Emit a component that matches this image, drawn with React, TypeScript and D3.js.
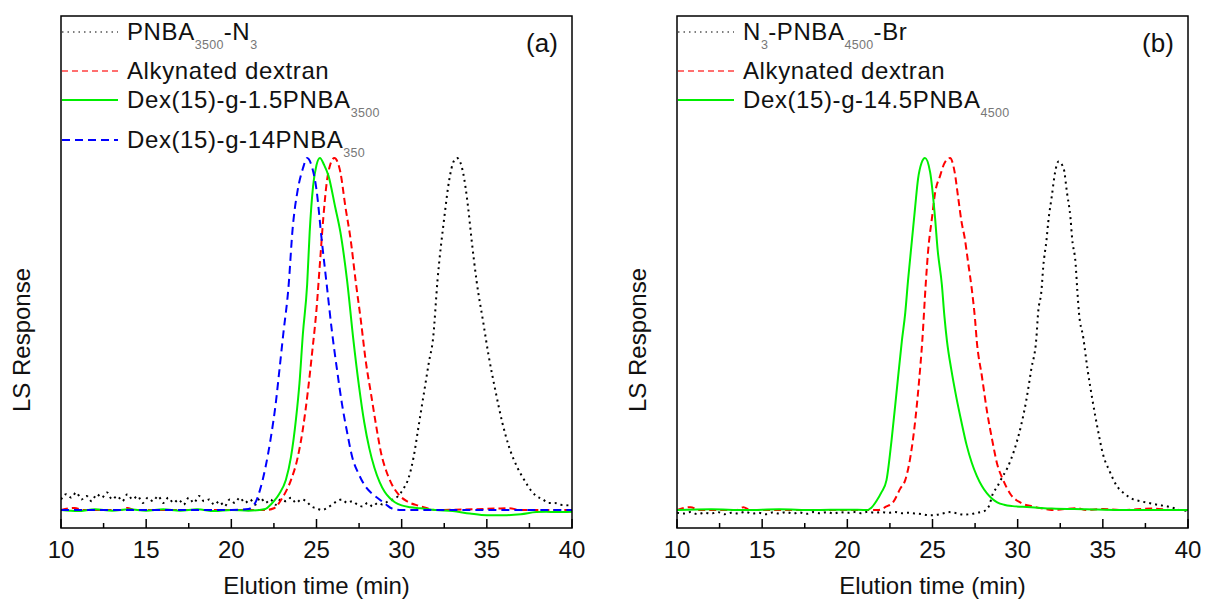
import React from "react";
import * as d3 from "d3";

type Pt = [number, number];

// ---------- Panel (a) data: [elution time (min), normalized LS response] ----------
const aPnba: Pt[] = [
  [10.0, 0.03], [10.3, 0.045], [10.6, 0.035], [10.9, 0.05], [11.2, 0.03], [11.5, 0.04], [11.8, 0.025],
  [12.1, 0.045], [12.4, 0.035], [12.7, 0.05], [13.0, 0.03], [13.3, 0.04], [13.6, 0.025], [13.9, 0.045],
  [14.2, 0.03], [14.5, 0.04], [14.8, 0.02], [15.1, 0.035], [15.4, 0.025], [15.7, 0.04], [16.0, 0.02],
  [16.3, 0.035], [16.6, 0.02], [16.9, 0.03], [17.2, 0.015], [17.5, 0.035], [17.8, 0.02], [18.1, 0.04],
  [18.4, 0.025], [18.7, 0.03], [19.0, 0.015], [19.3, 0.025], [19.6, 0.01], [19.9, 0.03], [20.2, 0.02],
  [20.5, 0.035], [20.8, 0.02], [21.1, 0.03], [21.4, 0.015], [21.7, 0.035], [22.0, 0.02], [22.3, 0.03],
  [22.6, 0.015], [22.9, 0.03], [23.2, 0.025], [23.5, 0.035], [23.8, 0.02], [24.1, 0.03], [24.4, 0.025],
  [24.7, 0.01], [25.0, 0.005], [25.3, 0.0], [25.6, 0.005], [25.9, 0.015], [26.2, 0.025], [26.5, 0.03],
  [26.8, 0.02], [27.1, 0.025], [27.4, 0.015], [27.7, 0.01], [28.0, 0.02], [28.3, 0.01], [28.6, 0.02],
  [28.9, 0.015], [29.2, 0.025], [29.5, 0.03], [29.8, 0.04], [30.1, 0.06], [30.4, 0.09], [30.7, 0.15],
  [31.0, 0.24], [31.3, 0.33], [31.6, 0.42], [31.85, 0.49], [32.1, 0.65], [32.5, 0.83], [32.8, 0.94],
  [33.05, 0.99], [33.25, 1.0], [33.6, 0.96], [33.9, 0.86], [34.1, 0.77], [34.4, 0.65], [34.8, 0.53],
  [35.1, 0.44], [35.5, 0.34], [35.9, 0.25], [36.3, 0.18], [36.8, 0.12], [37.2, 0.085], [37.6, 0.055],
  [37.9, 0.04], [38.3, 0.03], [38.6, 0.02], [39.0, 0.02], [39.3, 0.015], [39.6, 0.014], [40.0, 0.012],
];

const aDextran: Pt[] = [
  [10, 0], [10.8, 0.006], [11.3, 0], [13.5, 0], [13.9, 0.006], [14.3, 0], [18, 0], [22.0, 0], [22.5, 0.005],
  [23.0, 0.035], [23.5, 0.085], [23.9, 0.15], [24.2, 0.23], [24.5, 0.34], [24.75, 0.45], [25.0, 0.57],
  [25.2, 0.7], [25.4, 0.83], [25.6, 0.93], [25.8, 0.98], [26.05, 1.0], [26.4, 0.96], [26.7, 0.86],
  [27.0, 0.77], [27.3, 0.65], [27.6, 0.54], [27.9, 0.42], [28.2, 0.33], [28.5, 0.24], [28.8, 0.16],
  [29.1, 0.11], [29.4, 0.075], [29.8, 0.045], [30.3, 0.025], [31.0, 0.012], [31.5, 0.005], [32, 0],
  [35.5, 0.004], [36.3, 0.005], [37, 0], [40, 0],
];

const aGraft15: Pt[] = [
  [10, 0], [11, -0.003], [12, 0.002], [13, -0.002], [14, 0.002], [15, -0.002], [16, 0.002], [17, -0.002],
  [18, 0.002], [19, -0.003], [20, 0.0], [21, -0.002], [22.0, 0.003], [22.2, 0.01], [22.5, 0.025],
  [22.8, 0.045], [23.2, 0.085], [23.5, 0.15], [23.8, 0.26], [24.0, 0.36], [24.2, 0.5], [24.45, 0.64],
  [24.6, 0.79], [24.8, 0.92], [25.0, 0.98], [25.2, 1.0], [25.45, 0.98], [25.7, 0.95], [26.1, 0.86],
  [26.4, 0.79], [26.8, 0.65], [27.15, 0.49], [27.5, 0.35], [27.8, 0.25], [28.1, 0.175], [28.4, 0.12],
  [28.7, 0.08], [29.0, 0.052], [29.3, 0.034], [29.6, 0.022], [30.0, 0.013], [30.5, 0.008], [31.1, 0.005],
  [32, 0.0], [33, -0.003], [34, -0.01], [35, -0.015], [36, -0.015], [37, -0.012], [37.9, -0.006],
  [38.5, -0.005], [39, -0.006], [40, -0.005],
];

const aGraft14: Pt[] = [
  [10, 0], [12, 0], [14, 0], [16, 0], [18, 0], [20, 0], [21.0, 0.003], [21.4, 0.02], [21.7, 0.06],
  [22.0, 0.12], [22.3, 0.2], [22.6, 0.3], [22.85, 0.41], [23.05, 0.5], [23.35, 0.63], [23.6, 0.8],
  [23.9, 0.91], [24.2, 0.97], [24.45, 1.0], [24.7, 0.98], [25.0, 0.91], [25.3, 0.77], [25.6, 0.64],
  [25.9, 0.51], [26.2, 0.4], [26.5, 0.3], [26.8, 0.22], [27.1, 0.15], [27.5, 0.1], [27.9, 0.065],
  [28.3, 0.045], [28.7, 0.03], [29.1, 0.015], [29.4, 0.005], [30, 0], [32, 0], [35, 0], [38, 0], [40, 0],
];

// ---------- Panel (b) data ----------
const bPnba: Pt[] = [
  [10.0, -0.008], [10.4, -0.01], [10.8, -0.006], [11.2, -0.012], [11.6, -0.008], [12.0, -0.01],
  [12.4, -0.006], [12.8, -0.012], [13.2, -0.008], [13.6, -0.01], [14.0, -0.005], [14.4, -0.01],
  [14.8, -0.008], [15.2, -0.012], [15.6, -0.007], [16.0, -0.01], [16.4, -0.006], [16.8, -0.01],
  [17.2, -0.007], [17.6, -0.011], [18.0, -0.006], [18.4, -0.009], [18.8, -0.006], [19.2, -0.01],
  [19.6, -0.006], [20.0, -0.008], [20.4, -0.006], [20.8, -0.009], [21.2, -0.005], [21.6, -0.008],
  [22.0, -0.006], [22.4, -0.008], [22.8, -0.006], [23.2, -0.009], [23.6, -0.008], [24.0, -0.01],
  [24.4, -0.012], [24.8, -0.015], [25.2, -0.014], [25.6, -0.01], [26.0, -0.006], [26.4, -0.009],
  [26.8, -0.013], [27.2, -0.012], [27.6, -0.008], [28.0, -0.004], [28.3, 0.01], [28.55, 0.047],
  [28.8, 0.066], [29.0, 0.085], [29.4, 0.12], [29.8, 0.17], [30.2, 0.24], [30.5, 0.31], [30.8, 0.4],
  [31.1, 0.49], [31.2, 0.56], [31.4, 0.625], [31.5, 0.69], [31.7, 0.77], [31.8, 0.82], [32.0, 0.89],
  [32.2, 0.96], [32.4, 0.99], [32.7, 0.97], [32.9, 0.9], [33.1, 0.83], [33.2, 0.77], [33.4, 0.7],
  [33.5, 0.625], [33.6, 0.56], [33.85, 0.49], [34.1, 0.4], [34.4, 0.31], [34.7, 0.23], [35.0, 0.16],
  [35.4, 0.11], [35.8, 0.07], [36.3, 0.045], [36.8, 0.03], [37.2, 0.025], [37.7, 0.02], [38.2, 0.015],
  [38.8, 0.01], [39.2, 0.005], [39.5, 0.0], [40.0, -0.002],
];

const bDextran: Pt[] = [
  [10, 0], [10.8, 0.008], [11.3, 0], [13.5, 0], [13.9, 0.008], [14.3, 0], [18, 0], [21.8, 0.0],
  [22.3, 0.01], [22.7, 0.023], [23.1, 0.06], [23.4, 0.085], [23.7, 0.15], [24.0, 0.26], [24.2, 0.36],
  [24.4, 0.48], [24.6, 0.64], [24.75, 0.74], [24.97, 0.83], [25.15, 0.9], [25.45, 0.95], [25.7, 0.985],
  [26.03, 1.0], [26.3, 0.96], [26.5, 0.89], [26.7, 0.82], [26.9, 0.77], [27.1, 0.7], [27.3, 0.63],
  [27.5, 0.54], [27.6, 0.48], [27.9, 0.38], [28.2, 0.28], [28.5, 0.2], [28.8, 0.13], [29.15, 0.085],
  [29.55, 0.047], [30.2, 0.02], [30.9, 0.01], [31.5, 0.004], [32, 0], [33.5, 0.005], [34, 0],
  [35, 0.003], [36, 0], [38, 0.004], [39, 0], [40, 0],
];

const bGraft: Pt[] = [
  [10, 0], [12, 0.002], [14, 0], [16, 0.002], [18, 0], [20, 0.001], [21.2, 0], [21.4, 0.006],
  [21.7, 0.025], [22.0, 0.05], [22.3, 0.085], [22.6, 0.2], [22.9, 0.34], [23.2, 0.48], [23.4, 0.56],
  [23.56, 0.65], [23.8, 0.77], [23.98, 0.86], [24.15, 0.94], [24.35, 0.985], [24.56, 1.0], [24.86, 0.96],
  [25.15, 0.83], [25.3, 0.74], [25.55, 0.64], [25.7, 0.55], [25.85, 0.48], [26.1, 0.4], [26.4, 0.32],
  [26.7, 0.25], [27.0, 0.185], [27.3, 0.135], [27.6, 0.097], [27.9, 0.068], [28.2, 0.047], [28.5, 0.032],
  [28.8, 0.022], [29.2, 0.015], [29.7, 0.011], [30.3, 0.009], [31, 0.007], [32, 0.004], [34, 0.002],
  [36, 0.0], [40, 0.0],
];

// ---------- Axes ----------
const xDomain: [number, number] = [10, 40];
const xMajorTicks = [10, 15, 20, 25, 30, 35, 40];
const xMinorTicks = [12.5, 17.5, 22.5, 27.5, 32.5, 37.5];
const xTitle = "Elution time (min)";
const yTitle = "LS Response";

// ---------- Series styles ----------
type Seg = { t: string; sub?: boolean };
type Series = { data: Pt[]; color: string; dash: string; width: number; label: Seg[]; legendDash: string; legendWidth: number };

const BLACK = "#000000";
const RED = "#ff0000";
const GREEN = "#00ee00";
const BLUE = "#0000ff";

const panelASeries: Series[] = [
  { data: aPnba, color: BLACK, dash: "2,4", width: 2, legendDash: "1.5,4", legendWidth: 1.2,
    label: [{ t: "PNBA" }, { t: "3500", sub: true }, { t: "-N" }, { t: "3", sub: true }] },
  { data: aDextran, color: RED, dash: "7,4", width: 2, legendDash: "6,4", legendWidth: 1.3,
    label: [{ t: "Alkynated dextran" }] },
  { data: aGraft15, color: GREEN, dash: "", width: 2, legendDash: "", legendWidth: 2,
    label: [{ t: "Dex(15)-g-1.5PNBA" }, { t: "3500", sub: true }] },
  { data: aGraft14, color: BLUE, dash: "8,5", width: 2, legendDash: "8,5", legendWidth: 2,
    label: [{ t: "Dex(15)-g-14PNBA" }, { t: "350", sub: true }] },
];

const panelBSeries: Series[] = [
  { data: bPnba, color: BLACK, dash: "2,4", width: 2, legendDash: "1.5,4", legendWidth: 1.2,
    label: [{ t: "N" }, { t: "3", sub: true }, { t: "-PNBA" }, { t: "4500", sub: true }, { t: "-Br" }] },
  { data: bDextran, color: RED, dash: "7,4", width: 2, legendDash: "6,4", legendWidth: 1.3,
    label: [{ t: "Alkynated dextran" }] },
  { data: bGraft, color: GREEN, dash: "", width: 2, legendDash: "", legendWidth: 2,
    label: [{ t: "Dex(15)-g-14.5PNBA" }, { t: "4500", sub: true }] },
];

const FONT = "'Liberation Sans', Arial, Helvetica, sans-serif";
const PLOT_TOP = 16;
const PLOT_BOTTOM = 528;
const legendRowsY = [32, 71, 100, 140];

function Panel({ left, right, series, tag, id }: { left: number; right: number; series: Series[]; tag: string; id: string }) {
  const x = d3.scaleLinear().domain(xDomain).range([left, right]);
  const y = d3.scaleLinear().domain([0, 1]).range([510, 158]);
  const line = d3.line<Pt>().x((d) => x(d[0])).y((d) => y(d[1])).curve(d3.curveMonotoneX);
  return (
    <g>
      <defs>
        <clipPath id={id}>
          <rect x={left} y={PLOT_TOP} width={right - left} height={PLOT_BOTTOM - PLOT_TOP} />
        </clipPath>
      </defs>
      <g clipPath={`url(#${id})`}>
        {series.map((s, i) => (
          <path key={i} d={line(s.data) || ""} fill="none" stroke={s.color} strokeWidth={s.width}
            strokeDasharray={s.dash || undefined} strokeLinejoin="round" />
        ))}
      </g>
      <rect x={left} y={PLOT_TOP} width={right - left} height={PLOT_BOTTOM - PLOT_TOP} fill="none" stroke="#000" strokeWidth={1.5} />
      {xMajorTicks.map((t) => (
        <g key={`M${t}`}>
          <line x1={x(t)} x2={x(t)} y1={PLOT_BOTTOM} y2={PLOT_BOTTOM - 9} stroke="#000" strokeWidth={1.5} />
          <text x={x(t)} y={558} textAnchor="middle" fontFamily={FONT} fontSize={24} fill="#111">{t}</text>
        </g>
      ))}
      {xMinorTicks.map((t) => (
        <line key={`m${t}`} x1={x(t)} x2={x(t)} y1={PLOT_BOTTOM} y2={PLOT_BOTTOM - 5} stroke="#000" strokeWidth={1.5} />
      ))}
      <text x={(left + right) / 2} y={594} textAnchor="middle" fontFamily={FONT} fontSize={24} fill="#111">{xTitle}</text>
      <text transform={`translate(${left - 31},${340}) rotate(-90)`} textAnchor="middle" fontFamily={FONT} fontSize={24} fill="#111">{yTitle}</text>
      {series.map((s, i) => {
        const ly = legendRowsY[i];
        return (
          <g key={`lg${i}`}>
            <line x1={left + 1} x2={left + 57} y1={ly} y2={ly} stroke={s.color} strokeWidth={s.legendWidth}
              strokeDasharray={s.legendDash || undefined} opacity={s.color === RED ? 0.75 : 1} />
            <text x={left + 66} y={ly + 7.5} fontFamily={FONT} fontSize={24} letterSpacing={0.6} fill="#111">
              {s.label.map((seg, k) => {
                const prevSub = k > 0 && s.label[k - 1].sub;
                if (seg.sub) {
                  return <tspan key={k} dy={9} fontSize={12.5} letterSpacing={0.3} fill="#777">{seg.t}</tspan>;
                }
                return <tspan key={k} dy={prevSub ? -9 : 0}>{seg.t}</tspan>;
              })}
            </text>
          </g>
        );
      })}
      <text x={right - 30} y={52} textAnchor="middle" fontFamily={FONT} fontSize={26} fill="#111">{tag}</text>
    </g>
  );
}

export default function App() {
  return (
    <svg width={1205} height={601} viewBox="0 0 1205 601"
      style={{ position: "absolute", left: 0, top: 0, background: "#fff" }}>
      <rect x={0} y={0} width={1205} height={601} fill="#fff" />
      <Panel left={61} right={572} series={panelASeries} tag="(a)" id="clipA" />
      <Panel left={677} right={1188} series={panelBSeries} tag="(b)" id="clipB" />
    </svg>
  );
}
